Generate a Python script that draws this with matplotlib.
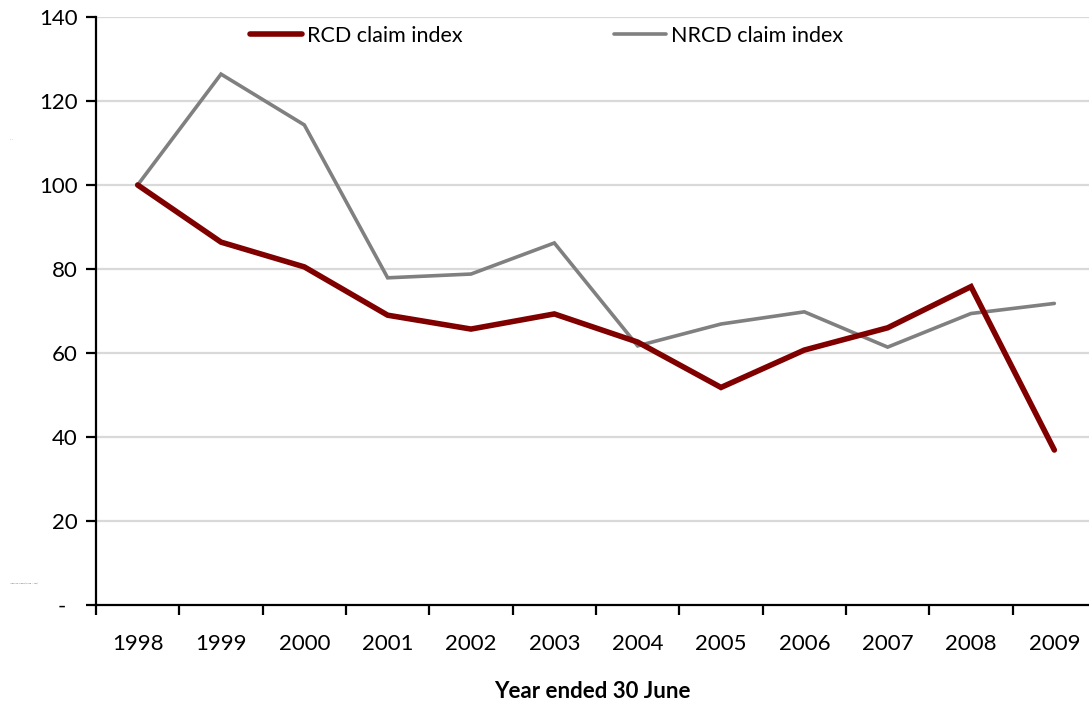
import matplotlib
matplotlib.use("Agg")
import matplotlib.pyplot as plt
import numpy as np

years = ["1998", "1999", "2000", "2001", "2002", "2003", "2004", "2005", "2006", "2007", "2008", "2009"]
rcd = [100, 86.4, 80.5, 69.0, 65.7, 69.3, 62.6, 51.8, 60.7, 66.0, 75.8, 36.9]
nrcd = [100, 126.4, 114.3, 77.9, 78.8, 86.2, 61.7, 66.9, 69.8, 61.4, 69.4, 71.8]
yticks = [0, 20, 40, 60, 80, 100, 120, 140]
ytick_labels = ["-  ", "20", "40", "60", "80", "100", "120", "140"]

plt.rcParams['font.family'] = ['Lato', 'DejaVu Sans']

W, H = 1089, 702
fig = plt.figure(figsize=(W / 100, H / 100), dpi=100)
left, right, top, bottom = 96, 1096, 17, 605
ax = fig.add_axes([left / W, 1 - bottom / H, (right - left) / W, (bottom - top) / H])

x = np.arange(len(years))
ax.set_xlim(-0.5, len(years) - 0.5)
ax.set_ylim(0, 140)

for yv in yticks[1:]:
    ax.axhline(yv, color="#D9D9D9", lw=1.6, zorder=1)

h1, = ax.plot(x, rcd, color="#800000", lw=4.0, solid_capstyle="round", solid_joinstyle="miter", zorder=3)
h2, = ax.plot(x, nrcd, color="#808080", lw=2.6, solid_capstyle="round", solid_joinstyle="miter", zorder=2)

for s in ["top", "right"]:
    ax.spines[s].set_visible(False)
for s in ["left", "bottom"]:
    ax.spines[s].set_linewidth(1.6)
    ax.spines[s].set_color("black")
    ax.spines[s].set_zorder(4)

ax.set_yticks(yticks)
ax.set_yticklabels(ytick_labels)
ax.tick_params(axis="y", direction="out", length=7, width=1.6, labelsize=16, pad=6)

ax.set_xticks(x)
ax.set_xticklabels(years)
ax.set_xticks(np.arange(len(years) + 1) - 0.5, minor=True)
ax.tick_params(axis="x", which="major", length=0, labelsize=16, pad=21)
ax.tick_params(axis="x", which="minor", direction="out", length=7, width=1.6)

fig.text(592 / W, 1 - 691 / H, "Year ended 30 June", ha="center", va="center",
         fontsize=16, fontweight="bold")

leg1 = ax.legend([h1], ["RCD claim index"], loc="center left",
                 bbox_to_anchor=(250 / W, 1 - 36 / H), bbox_transform=fig.transFigure,
                 frameon=False, fontsize=15.5, handlelength=2.4, handletextpad=0.25,
                 borderpad=0, borderaxespad=0)
ax.add_artist(leg1)
ax.legend([h2], ["NRCD claim index"], loc="center left",
          bbox_to_anchor=(614 / W, 1 - 36 / H), bbox_transform=fig.transFigure,
          frameon=False, fontsize=15.5, handlelength=2.4, handletextpad=0.25,
          borderpad=0, borderaxespad=0)

fig.text(10 / W, 1 - 140 / H, "- -", fontsize=2, color="#666666", va="center")
fig.text(10 / W, 1 - 583 / H, "Index of claims (1998 = 100)", fontsize=1.6, color="#666666", va="center")

fig.savefig("out.png", dpi=100, facecolor="white")
